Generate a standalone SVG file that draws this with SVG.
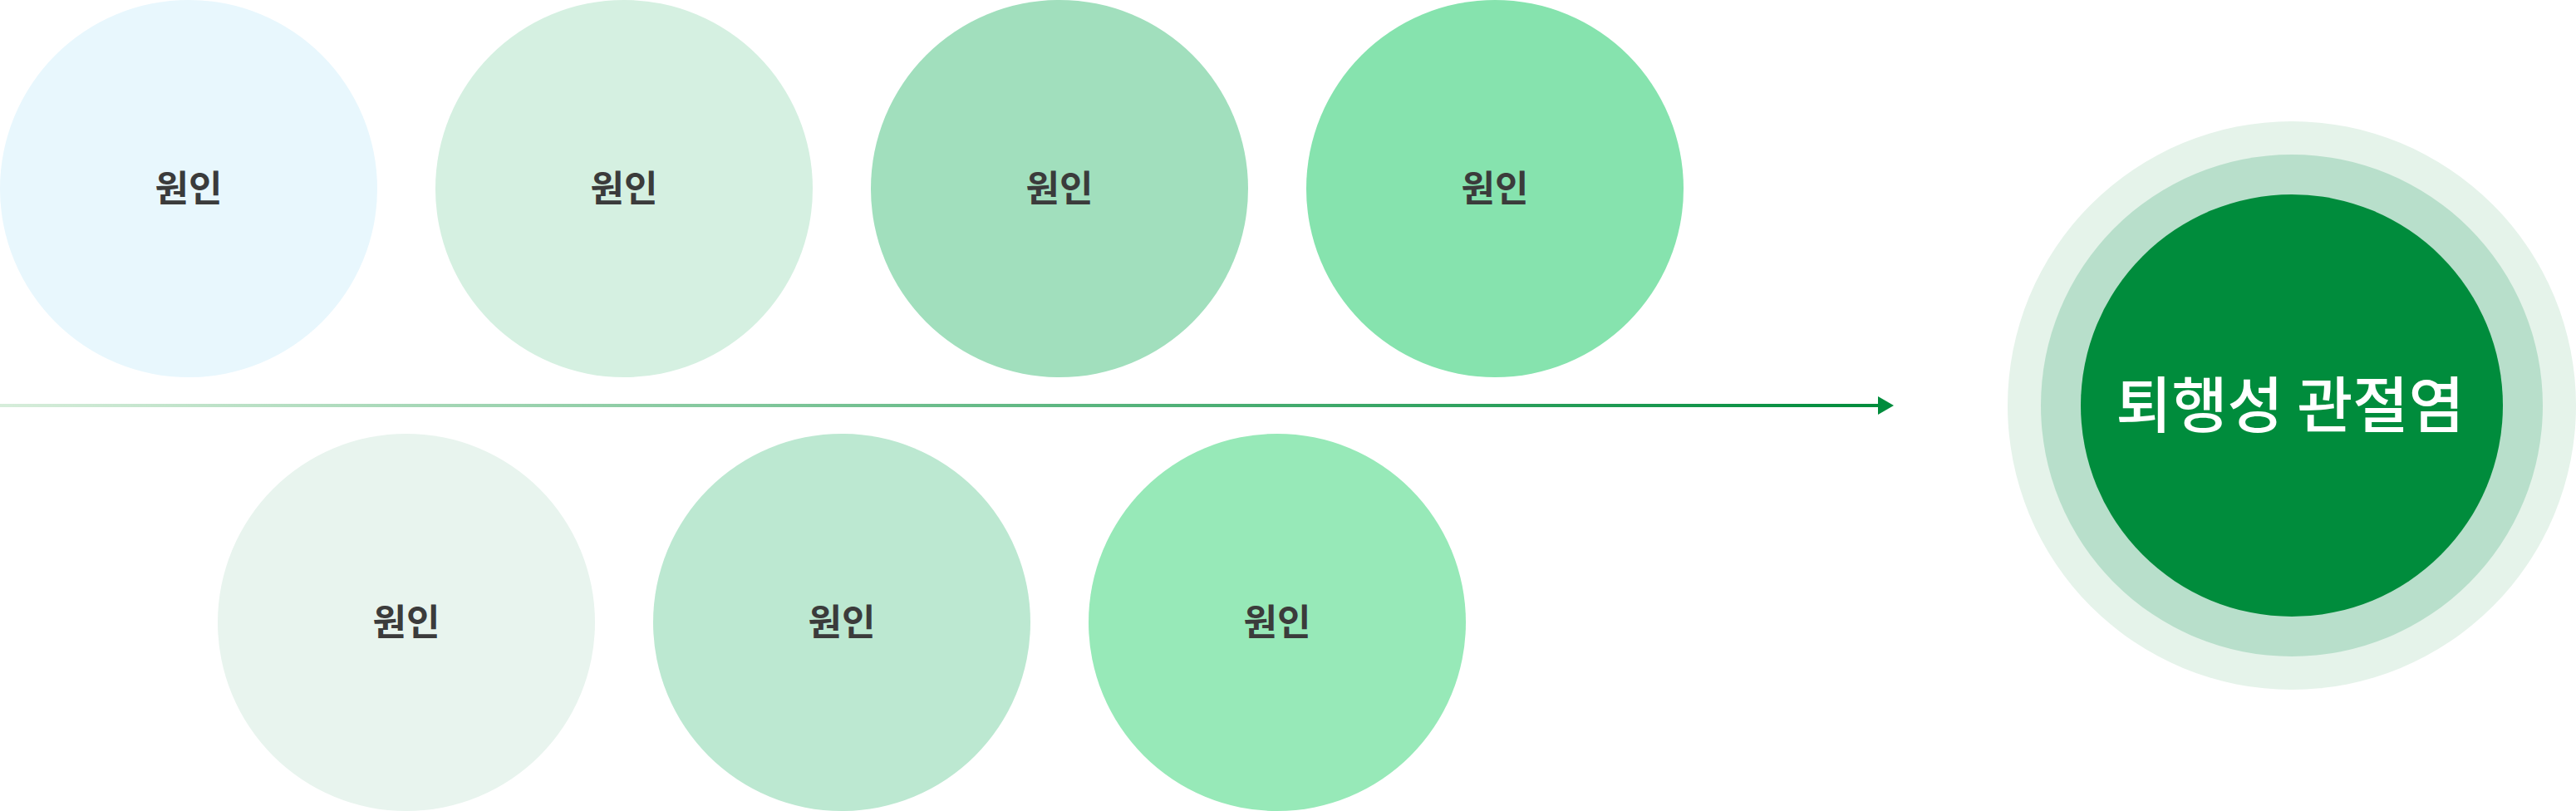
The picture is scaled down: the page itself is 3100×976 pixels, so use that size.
<svg xmlns="http://www.w3.org/2000/svg" width="3100" height="976" viewBox="0 0 3100 976">
  <style>
    .lbl { font-family: "Noto Sans CJK KR", "Noto Sans", sans-serif; font-size: 44px; font-weight: 700; fill: #3b3b3b; text-anchor: middle; }
    .main { font-family: "Noto Sans CJK KR", "Noto Sans", sans-serif; font-size: 73px; font-weight: 500; fill: #ffffff; text-anchor: middle; }
  </style>
  <defs>
    <linearGradient id="lineGrad" gradientUnits="userSpaceOnUse" x1="0" y1="488" x2="2262" y2="488">
      <stop offset="0" stop-color="#d6edda"/>
      <stop offset="1" stop-color="#008c3c"/>
    </linearGradient>
    <marker id="arrow" markerUnits="userSpaceOnUse" markerWidth="20" markerHeight="22" refX="0" refY="11" orient="auto">
      <path d="M0,0 L19,11 L0,22 Z" fill="#008c3c"/>
    </marker>
  </defs>
  <rect width="3100" height="976" fill="#ffffff"/>

  <g id="connectors">
    <line x1="0" y1="488" x2="2260" y2="488" stroke="url(#lineGrad)" stroke-width="4" marker-end="url(#arrow)"/>
  </g>

  <g id="cause-top-1">
    <circle cx="227" cy="227" r="227" fill="#e8f7fd"/>
    <text class="lbl" x="227" y="243">원인</text>
  </g>
  <g id="cause-top-2">
    <circle cx="751" cy="227" r="227" fill="#d5f0e1"/>
    <text class="lbl" x="751" y="243">원인</text>
  </g>
  <g id="cause-top-3">
    <circle cx="1275" cy="227" r="227" fill="#a1dfbd"/>
    <text class="lbl" x="1275" y="243">원인</text>
  </g>
  <g id="cause-top-4">
    <circle cx="1799" cy="227" r="227" fill="#86e3ae"/>
    <text class="lbl" x="1799" y="243">원인</text>
  </g>

  <g id="cause-bottom-1">
    <circle cx="489" cy="749" r="227" fill="#e8f4ee"/>
    <text class="lbl" x="489" y="765">원인</text>
  </g>
  <g id="cause-bottom-2">
    <circle cx="1013" cy="749" r="227" fill="#bce8d1"/>
    <text class="lbl" x="1013" y="765">원인</text>
  </g>
  <g id="cause-bottom-3">
    <circle cx="1537" cy="749" r="227" fill="#97e9b8"/>
    <text class="lbl" x="1537" y="765">원인</text>
  </g>

  <g id="result">
    <circle cx="2758" cy="488" r="342" fill="#e5f3ea"/>
    <circle cx="2758" cy="488" r="302" fill="#b8dfcb"/>
    <circle cx="2758" cy="488" r="254" fill="#008c3c"/>
    <text class="main" x="2756" y="514">퇴행성 관절염</text>
  </g>
</svg>
